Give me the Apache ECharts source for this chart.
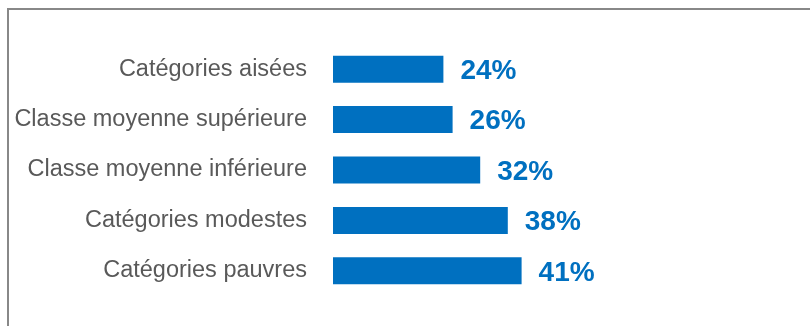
<!DOCTYPE html>
<html>
<head>
<meta charset="utf-8">
<script src="https://cdn.jsdelivr.net/npm/echarts@6/dist/echarts.min.js"></script>
<style>
  html, body { margin: 0; padding: 0; background: #ffffff; }
  #chart { width: 810px; height: 326px; }
</style>
</head>
<body>
<div id="chart"></div>
<script>
// Share of each social category (percent)
const categories = [
  'Catégories aisées',
  'Classe moyenne supérieure',
  'Classe moyenne inférieure',
  'Catégories modestes',
  'Catégories pauvres'
];
const values = [24, 26, 32, 38, 41];

const chart = echarts.init(document.getElementById('chart'), null, { renderer: 'canvas' });

chart.setOption({
  backgroundColor: '#ffffff',
  animation: false,
  grid: { left: 333, top: 44, width: 460, height: 252, containLabel: false },
  xAxis: {
    type: 'value',
    min: 0,
    max: 100,
    show: false
  },
  yAxis: {
    type: 'category',
    data: categories,
    inverse: true,
    axisLine: { show: false },
    axisTick: { show: false },
    splitLine: { show: false },
    axisLabel: {
      margin: 26,
      color: '#595959',
      fontFamily: 'Liberation Sans, Arial, sans-serif',
      fontSize: 23.5
    }
  },
  series: [{
    type: 'bar',
    data: values,
    barWidth: 27,
    itemStyle: { color: '#0070C0' },
    label: {
      show: true,
      position: 'right',
      distance: 17,
      offset: [0, 2],
      formatter: '{c}%',
      color: '#0070C0',
      fontFamily: 'Liberation Sans, Arial, sans-serif',
      fontWeight: 'bold',
      fontSize: 28
    }
  }],
  graphic: [{
    type: 'polyline',
    silent: true,
    shape: { points: [[8, 326], [8, 9], [810, 9]] },
    style: { stroke: '#888888', lineWidth: 2, fill: null }
  }]
});
</script>
</body>
</html>
